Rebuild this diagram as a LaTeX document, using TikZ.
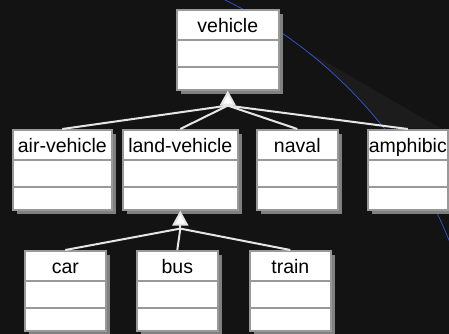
\documentclass[tikz,border=0pt]{standalone}
\usepackage{fontspec}
\setmainfont{Liberation Sans}
\usetikzlibrary{arrows.meta,shadows}
\definecolor{bgdark}{HTML}{131313}
\definecolor{wedgegray}{HTML}{1C1C1C}
\definecolor{boxgray}{HTML}{999999}
\definecolor{shadowgray}{HTML}{808080}
\definecolor{linkwhite}{HTML}{E6E6E6}
\definecolor{orbitblue}{HTML}{3358D8}
\tikzset{
  umlclass/.style={draw=boxgray, line width=1.6pt, fill=white, anchor=north west,
    inner sep=0pt, text height=23pt, text depth=57pt, minimum height=80pt,
    font=\fontsize{19.5}{20}\selectfont,
    drop shadow={shadow xshift=4pt, shadow yshift=-4pt, fill=shadowgray, opacity=1},
    path picture={
      \draw[boxgray, line width=2pt] ([yshift=-30.5pt]path picture bounding box.north west) -- ([yshift=-30.5pt]path picture bounding box.north east);
      \draw[boxgray, line width=2pt] ([yshift=-57pt]path picture bounding box.north west) -- ([yshift=-57pt]path picture bounding box.north east);
    }},
  link/.style={draw=linkwhite, line width=2pt},
  gen/.style={link, -{Triangle[length=15pt, width=16pt, fill=white]}}
}
\begin{document}
\begin{tikzpicture}[x=1pt, y=-1pt]
    \useasboundingbox (0,0) rectangle (449,334);
    \fill[bgdark] (0,0) rectangle (449,334);
    \fill[wedgegray] (305,50) -- (440,128) -- (384,128) -- (360,100) -- (338,78) -- (314,57) -- cycle;
    \begin{scope}
      \clip (0,0) rectangle (449,334);
      \draw[orbitblue, line width=0.7pt] (25,411) circle (457pt);
    \end{scope}
    \foreach \n/\x/\y/\w/\t in {vehicle/176/9/102/vehicle, air/12/129/99/air-vehicle,
        land/122/129/115/land-vehicle, naval/256/129/81/naval, amph/367/129/80/amphibic,
        car/24/250/81/car, bus/136/250/81/bus, train/249/250/81/train}
      \node[umlclass, minimum width=\w pt] (\n) at (\x,\y) {\t};
    \path (vehicle.south) ++(0,15) coordinate (vjoin);
    \path (land.south) ++(0,18) coordinate (ljoin);
    \foreach \c in {air,land,naval,amph}
      \draw[link] (vjoin) -- (\c.north);
    \foreach \c in {car,bus,train}
      \draw[link] (ljoin) -- (\c.north);
    \draw[gen] (vjoin) -- (vehicle.south);
    \draw[gen] (ljoin) -- (land.south);
  \end{tikzpicture}
\end{document}
